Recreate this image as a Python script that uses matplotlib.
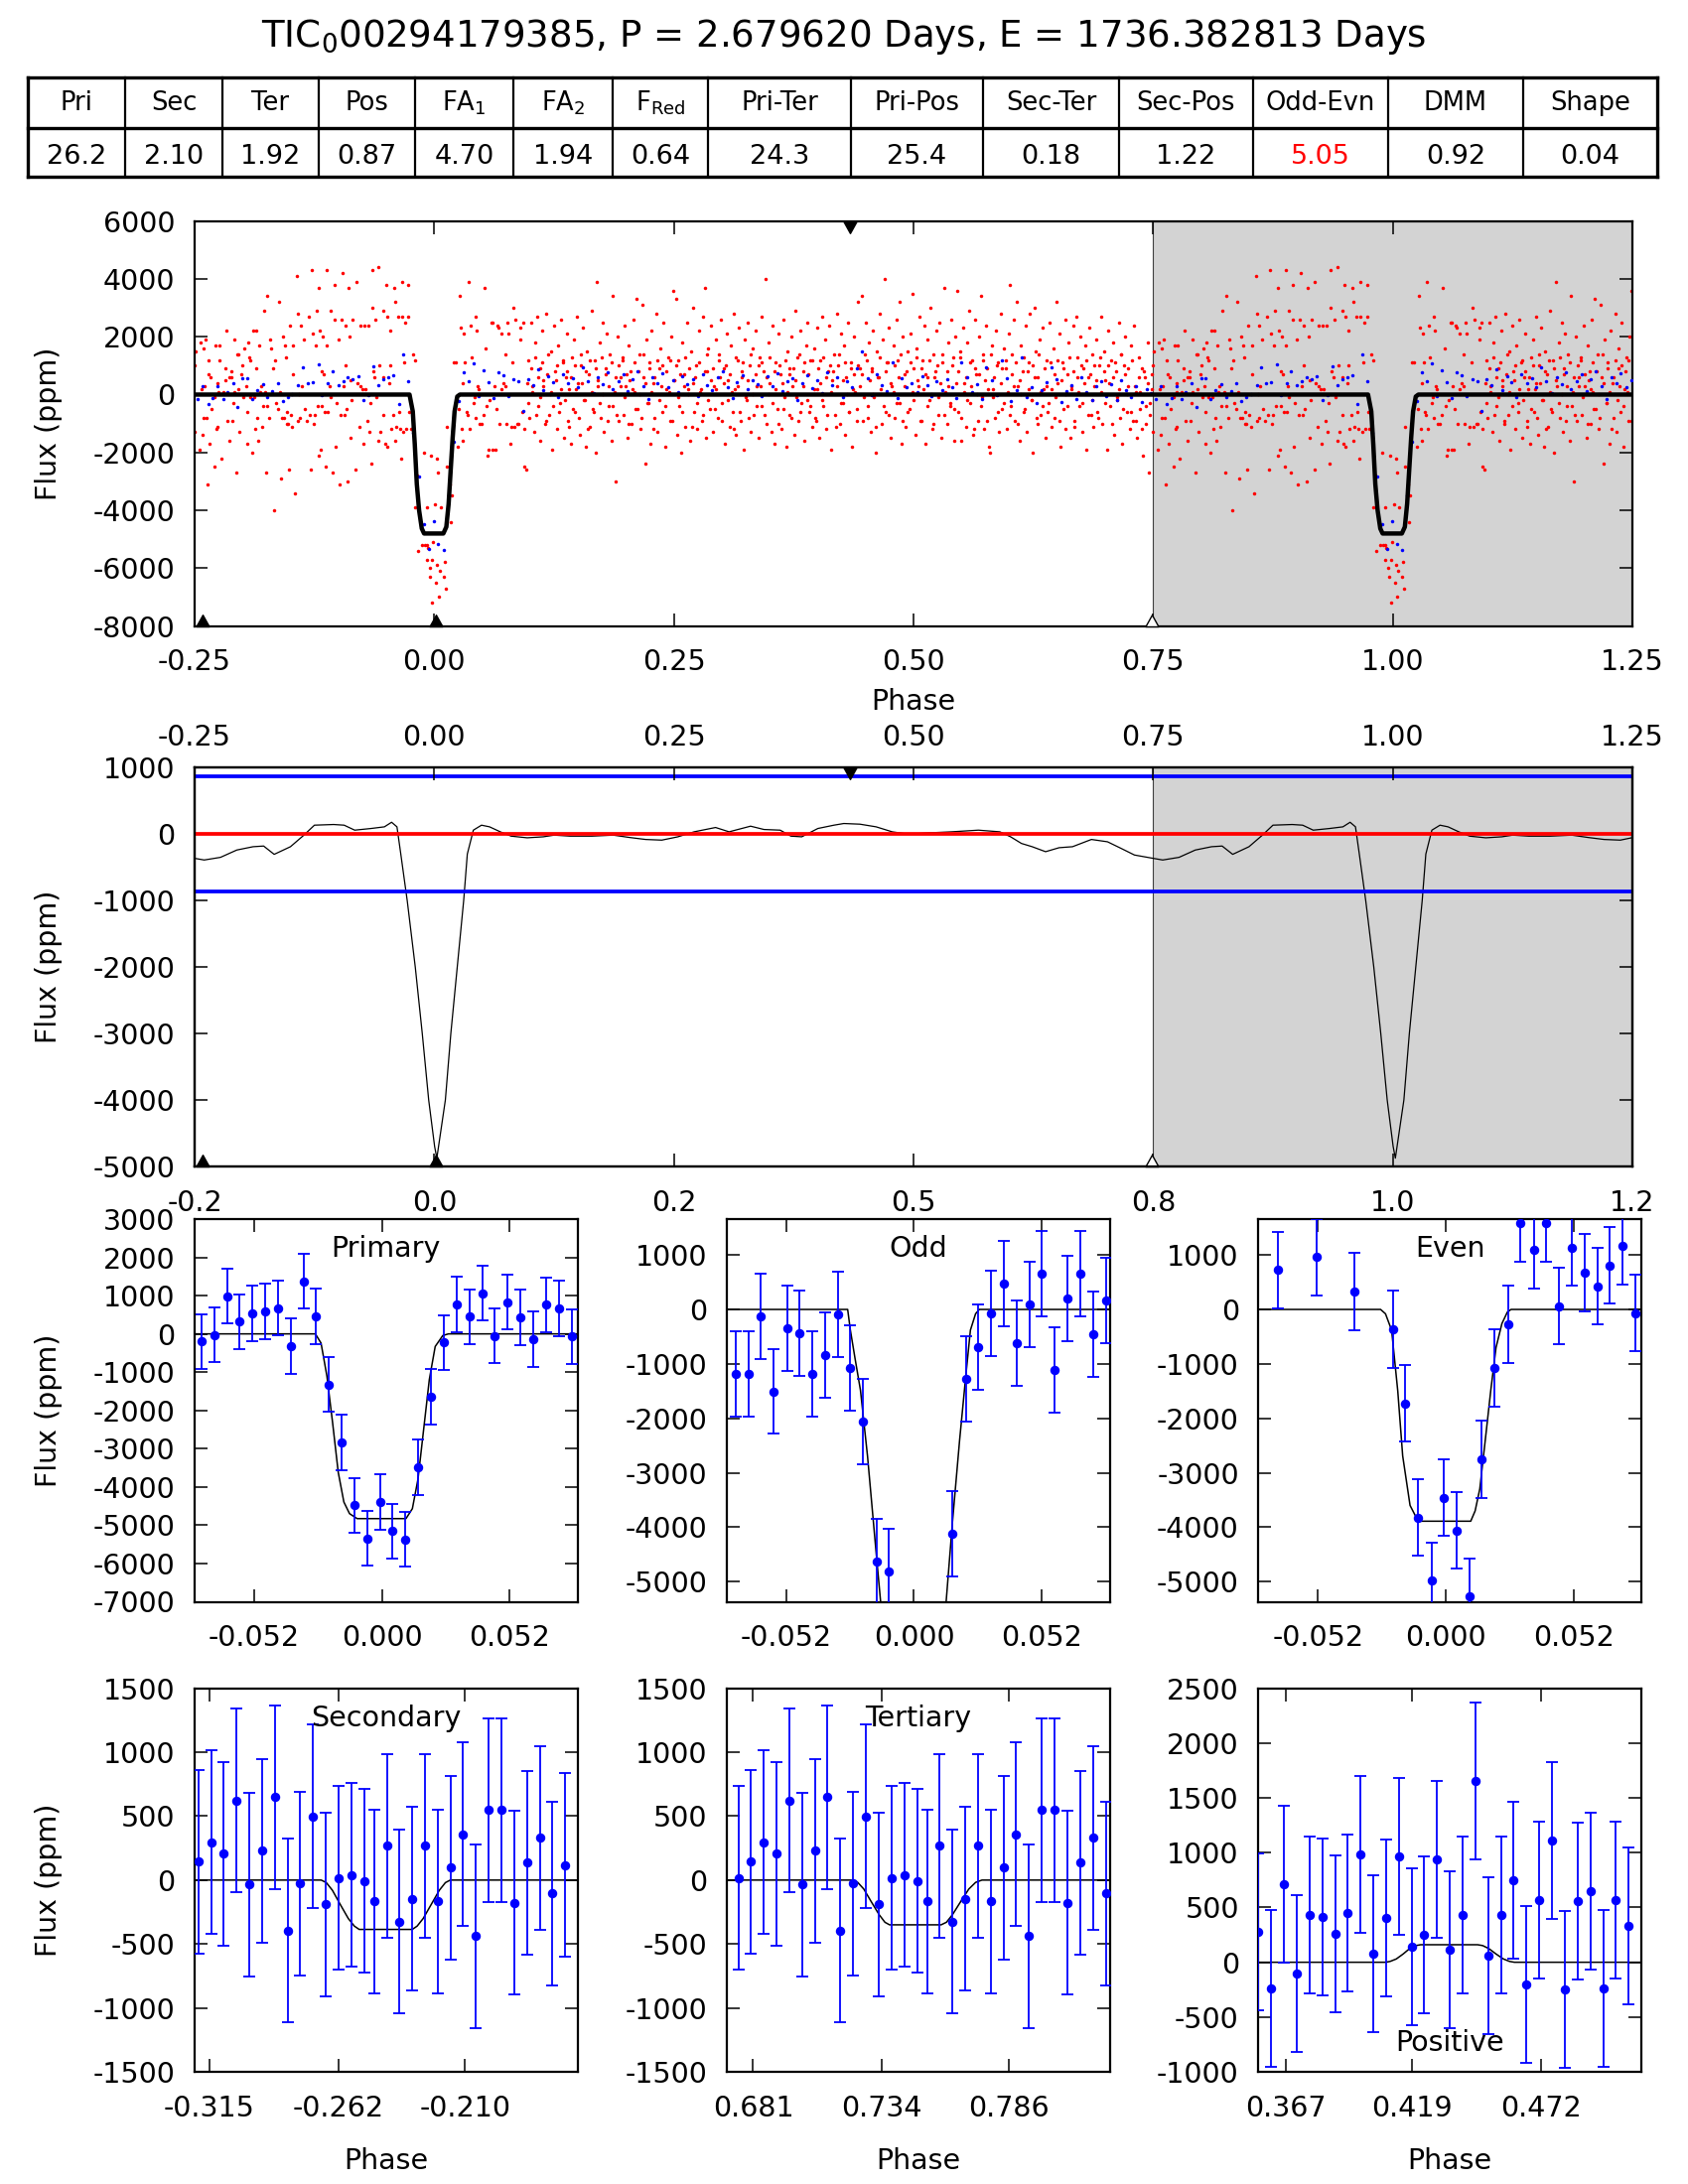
import numpy as np
import matplotlib.pyplot as plt
from matplotlib.path import Path

plt.rcParams['font.family'] = 'DejaVu Sans'
plt.rcParams['mathtext.fontset'] = 'dejavusans'
plt.rcParams['axes.unicode_minus'] = False

# ---------------- data ----------------
title = "TIC$_0$00294179385, P = 2.679620 Days, E = 1736.382813 Days"
table_heads = ["Pri", "Sec", "Ter", "Pos", "FA$_1$", "FA$_2$", "F$_{\\mathrm{Red}}$", "Pri-Ter",
               "Pri-Pos", "Sec-Ter", "Sec-Pos", "Odd-Evn", "DMM", "Shape"]
table_vals = ["26.2", "2.10", "1.92", "0.87", "4.70", "1.94", "0.64", "24.3", "25.4",
              "0.18", "1.22", "5.05", "0.92", "0.04"]
table_red = ["Odd-Evn"]

# event phases: secondary, primary, positive, tertiary
ev_sec, ev_pri, ev_pos, ev_ter = -0.242, 0.0017, 0.434, 0.749

# unbinned flux, phase in 1e-3, flux in 100 ppm
red_ph = [
    -249, -250, -244, -241, -239, -243, -240, -236, -235, -250, -241, -238, -242, -245, -237, -234, -232, -229, -228, -233,
    -229, -227, -226, -224, -224, -226, -225, -222, -220, -218, -217, -218, -216, -214, -214, -212, -211, -210, -209, -212, -209,
    -206, -205, -204, -204, -203, -201, -200, -199, -198, -196, -195, -195, -194, -193, -192, -192, -190, -189, -188, -187, -186, -186,
    -185, -184, -183, -182, -181, -180, -179, -178, -176, -175, -174, -174, -172, -171, -170, -168, -167, -166, -165, -163, -162, -161, -160, -159, -158,
    -157, -156, -155, -154, -154, -153, -152, -151, -150, -148, -147, -147, -145, -143, -142, -142, -141, -140, -139, -138, -136, -135, -133, -131,
    -130, -129, -128, -127, -126, -125, -124, -123, -122, -120, -120, -119, -118, -117, -117, -116, -115, -114, -113, -112, -112, -111, -109, -108, -108, -106, -104, -104, -103,
    -102, -100, -99, -98, -97, -96, -95, -94, -93, -93, -92, -90, -89, -88, -87, -87, -86, -85, -82, -81, -80, -78, -77, -77, -75,
    -74, -73, -72, -70, -69, -68, -67, -66, -65, -65, -64, -62, -61, -60, -58, -58, -57, -56, -53, -53, -53, -51, -50, -49, -49, -47, -46, -46,
    -45, -43, -42, -41, -41, -40, -38, -37, -36, -35, -34, -34, -32, -31, -30, -29, -27, -27, -26, -24, -22, -20,
    -20, -18, -17, -13, -11, -10, -8, -8, -7, -8, -5, -4, -3, -2, -2, -1, 1, 2, 3, 3, 4, 5, 6, 7, 10, 11, 12, 13, 13, 16, 17, 18,
    20, 22, 23, 25, 26, 27, 28, 29, 30, 30, 31, 32, 34, 35, 36, 37, 38, 39, 41, 42, 43, 43, 44, 45, 46, 47,
    49, 51, 52, 54, 55, 56, 57, 58, 60, 61, 61, 63, 64, 65, 66, 67, 68, 70, 70, 72, 74, 74, 75,
    76, 77, 79, 80, 82, 83, 84, 85, 87, 88, 90, 90, 92, 94, 94, 93,
    96, 98, 99, 101, 102, 104, 105, 107, 108, 110, 111, 113, 114, 116, 117, 119, 120, 122, 123, 125, 126, 128, 129, 131, 132, 134, 135, 137, 138, 140, 141, 143, 144,
    146, 147, 149, 150, 152, 153, 155, 156, 158, 159, 161, 162, 164, 165, 167, 168, 170, 171, 173, 174, 176, 177, 179, 180, 182, 183, 185, 186, 188, 189, 191, 192, 194,
    196, 197, 199, 200, 202, 203, 205, 206, 208, 209, 211, 212, 214, 215, 217, 218, 220, 221, 223, 224, 226, 227, 229, 230, 232, 233, 235, 236, 238, 239, 241, 242, 244,
    246, 247, 249, 250, 252, 253, 255, 256, 258, 259, 261, 262, 264, 265, 267, 268, 270, 271, 273, 274, 276, 277, 279, 280, 282, 283, 285, 286, 288, 289, 291, 292, 294,
    296, 297, 299, 300, 302, 303, 305, 306, 308, 309, 311, 312, 314, 315, 317, 318, 320, 321, 323, 324, 326, 327, 329, 330, 332, 333, 335, 336, 338, 339, 341, 342, 344,
    346, 347, 349, 350, 352, 353, 355, 356, 358, 359, 361, 362, 364, 365, 367, 368, 370, 371, 373, 374, 376, 377, 379, 380, 382, 383, 385, 386, 388, 389, 391, 392, 394,
    396, 397, 399, 400, 402, 403, 405, 406, 408, 409, 411, 412, 414, 415, 417, 418, 420, 421, 423, 424, 426, 427, 429, 430, 432, 433, 435, 436, 438, 439, 441, 442, 444,
    446, 447, 449, 450, 452, 453, 455, 456, 458, 459, 461, 462, 464, 465, 467, 468, 470, 471, 473, 474, 476, 477, 479, 480, 482, 483, 485, 486, 488, 489, 491, 492, 494,
    496, 497, 499, 500, 502, 503, 505, 506, 508, 509, 511, 512, 514, 515, 517, 518, 520, 521, 523, 524, 526, 527, 529, 530, 532, 533, 535, 536, 538, 539, 541, 542, 544,
    546, 547, 549, 550, 552, 553, 555, 556, 558, 559, 561, 562, 564, 565, 567, 568, 570, 571, 573, 574, 576, 577, 579, 580, 582, 583, 585, 586, 588, 589, 591, 592, 594,
    596, 597, 599, 600, 602, 603, 605, 606, 608, 609, 611, 612, 614, 615, 617, 618, 620, 621, 623, 624, 626, 627, 629, 630, 632, 633, 635, 636, 638, 639, 641, 642, 644,
    646, 647, 649, 650, 652, 653, 655, 656, 658, 659, 661, 662, 664, 665, 667, 668, 670, 671, 673, 674, 676, 677, 679, 680, 682, 683, 685, 686, 688, 689, 691, 692, 694,
    696, 697, 699, 700, 702, 703, 705, 706, 708, 709, 711, 712, 714, 715, 717, 718, 720, 721, 723, 724, 726, 727, 729, 730, 732, 733, 735, 736, 738, 739, 741, 742, 744, 745, 747, 749,
    96.6, 98.2, 100.9, 102.3, 104.8, 106.1, 108.5, 110.2, 112.7, 113.9, 116.4, 118.1, 120.6, 121.8, 124.3, 126.9, 128.0, 130.5, 132.2, 134.7, 136.0, 138.6, 140.3,
    142.1, 144.8, 146.5, 148.3, 150.9, 152.6, 154.1, 156.8, 158.4, 160.2, 162.7, 164.5, 166.0, 168.6, 170.3, 172.9, 174.4, 176.2, 178.7, 180.5, 182.1, 184.6, 186.3, 188.9,
    190.4, 192.8, 194.5, 196.1, 198.6, 200.3, 202.9, 204.2, 206.7, 208.5, 210.1, 212.6, 214.4, 216.0, 218.7, 220.3, 222.8, 224.1, 226.6, 228.4, 230.0, 232.5, 234.3, 236.8, 238.2,
    240.6, 242.4, 244.9, 246.2, 248.7, 250.5, 252.1, 254.6, 256.3, 258.9, 260.4, 262.2, 264.7, 266.1, 268.6, 270.4, 272.0, 274.5, 276.3, 278.8, 280.2, 282.7, 284.5, 286.0, 288.6,
    290.3, 292.9, 294.1, 296.6, 298.4, 300.0, 302.5, 304.3, 306.8, 308.2, 310.7, 312.5, 314.1, 316.6, 318.4, 320.9, 322.2, 324.7, 326.5, 328.0, 330.6, 332.3, 334.9, 336.1, 338.7,
    340.4, 342.0, 344.5, 346.3, 348.8, 350.2, 352.7, 354.5, 356.1, 358.6, 360.4, 362.9, 364.2, 366.7, 368.5, 370.0, 372.6, 374.3, 376.9, 378.1, 380.6, 382.4, 384.9, 386.2, 388.7,
    390.5, 392.1, 394.6, 396.4, 398.9, 400.2, 402.8, 404.5, 406.1, 408.6, 410.3, 412.9, 414.4, 416.2, 418.7, 420.5, 422.0, 424.6, 426.3, 428.8, 430.1, 432.6, 434.4, 436.9, 438.3,
    440.7, 442.5, 444.0, 446.6, 448.3, 450.9, 452.1, 454.6, 456.4, 458.0, 460.5, 462.3, 464.8, 466.2, 468.7, 470.5, 472.1, 474.6, 476.4, 478.9, 480.2, 482.8, 484.5, 486.1, 488.6,
    490.3, 492.9, 494.2, 496.7, 498.5, 500.1, 502.6, 504.4, 506.9, 508.2, 510.8, 512.5, 514.0, 516.6, 518.3, 520.9, 522.1, 524.6, 526.4, 528.0, 530.5, 532.3, 534.8, 536.2, 538.7,
    540.4, 542.0, 544.5, 546.3, 548.8, 550.1, 552.7, 554.5, 556.0, 558.6, 560.3, 562.9, 564.2, 566.7, 568.5, 570.1, 572.6, 574.4, 576.9, 578.2, 580.8, 582.5, 584.0, 586.6, 588.3,
    590.9, 592.1, 594.6, 596.4, 598.0, 600.5, 602.3, 604.8, 606.2, 608.7, 610.5, 612.1, 614.6, 616.4, 618.9, 620.2, 622.8, 624.5, 626.1, 628.6, 630.3, 632.9, 634.2, 636.7, 638.5,
    640.0, 642.6, 644.3, 646.9, 648.1, 650.6, 652.4, 654.0, 656.5, 658.3, 660.8, 662.2, 664.7, 666.5, 668.0, 670.6, 672.3, 674.9, 676.1, 678.6, 680.4, 682.0, 684.5, 686.3, 688.8,
    690.2, 692.7, 694.5, 696.1, 698.6, 700.4, 702.9, 704.2, 706.7, 708.5, 710.0, 712.6, 714.3, 716.9, 718.1, 720.6, 722.4, 724.0, 726.5, 728.3, 730.8, 732.2, 734.7, 736.5, 738.1, 740.6, 742.4, 744.9, 746.2, 748.7,
]
red_fx = [
    15, 10, 18, 16, 19, 2, 3, 12, 7, -13, -8, -8, -14, -19, -31, -17, -5, -25, 17, 6,
    -1, -12, -11, 12, 17, 4, 1, -22, 1, 9, 22, 5, -9, 6, -16, 8, -9, -3, 19, 6, 1,
    -27, 14, 2, 14, -13, 7, 10, -1, 16, 3, -17, -6, 18, 13, 12, -1, -20, 22, -1, -12, 9, 22,
    -8, -16, 17, 1, 3, -11, -4, 29, 1, -27, 34, -4, -8, 19, 16, 9, -40, 12, -3, -5, 32, 1, -29, -8, 20,
    -8, 17, 13, -10, -6, -10, -26, 24, -7, -11, 7, 17, -34, 41, 28, -9, 0, -8, 24, 3, 19, -5, -9, 27,
    -7, -26, 43, 21, -10, -7, 17, 29, -4, -21, 37, 22, -19, -4, 8, 20, 7, -6, -25, 17, 43, -6, 3, 29, -1, -27, 38, 26, -18,
    -3, 19, -31, -7, 26, 42, 3, -7, 24, 10, -5, -30, 37, 20, -15, 5, -2, 26, -26, 39, 4, -11, 24, 3, 2,
    -17, 24, 2, -9, 24, -13, -3, -24, 43, 30, 8, 6, 26, -1, -16, 44, 10, -13, 29, 6, -7, -17, 38, 27, -18, 4, 10, 22,
    -12, -7, 37, 32, -16, -11, 27, -6, -12, -22, 39, 27, -13, 11, 25, -12, 38, 27, -6, -12, 14, 12,
    -39, -28, -54, -52, -20, -52, -52, -39, -53, -57, -60, -63, -21, -72, -57, -51, -38, -65, -59, -22, -27, -70, -61, -39, -63, -58, -67, -11, -25, -31, -44, -35,
    11, 11, -2, -18, -5, 34, 23, -12, -16, 4, 21, 11, -6, -7, 39, -12, 24, 13, -3, -1, -8, 27, 22, 3, 2, -10,
    -10, -7, 37, 16, -4, -21, -19, -2, 25, 25, -19, 3, -19, -5, 24, 23, -10, 2, 21, 4, 14, 3, -10,
    25, 21, -17, -11, 11, 30, -11, 26, -10, -10, 23, 19, -6, -12, -25, 25,
    -26, 12, -8, 25, 3, -13, 18, 27, -4, 9, -16, 22, 5, -10, 28, 14, -7, 1, -19, 24, 8, -12, 17, -3, 26, 11, -15, 6, 21, -9, 2, -17, 13,
    19, -6, 27, 4, -14, 10, 23, -2, -18, 15, 7, -11, 29, -5, 12, -20, 39, 3, 18, -8, 25, -13, 9, 21, -4, 14, -16, 34, 1, -30, 20, -9, 6,
    12, -7, 24, 3, -15, 17, 8, -10, 26, 1, 33, -5, 14, -12, 31, 6, -24, 19, -3, 11, -17, 22, 4, -8, 28, -13, 9, 16, -6, 25, -18, 2, 13,
    -9, 20, 36, 5, 33, -14, 12, -4, -20, 18, 7, -11, 25, 2, -16, 15, 30, -6, 10, -12, 22, 1, -9, 27, 37, -15, 8, 16, -5, 24, -13, 3, 19,
    -8, 14, 26, -3, 9, -17, 21, 5, -11, 17, -6, 28, 2, -14, 12, 23, -9, 6, -19, 19, -2, 25, 10, -13, 16, -7, 22, 3, -15, 13, -4, 27, 8,
    40, -10, 18, 4, -13, 24, -17, 11, -5, 21, 7, -12, 26, -1, -18, 15, 9, -7, 20, 3, -14, 29, 13, -9, 22, -3, 8, -16, 17, 25, -6, 12, -11,
    16, -8, 23, 2, -15, 12, 27, -4, 19, -12, 8, 24, -19, 5, 14, -7, 28, 10, -10, 21, -3, 17, -14, 6, 25, -6, 11, -18, 20, 1, -9, 32, 9,
    34, -9, 14, 25, -4, 18, -13, 8, 22, -1, -20, 15, 6, 28, -10, 19, 40, -6, 11, 23, -15, 3, 17, -8, 26, 12, 32, -3, -17, 20, 7, -11, 15,
    -5, 21, 35, 9, -14, 16, 3, 27, -9, 12, 24, -17, 6, 19, -2, 30, -12, 14, 8, 22, -7, 25, -15, 11, 37, 1, -10, 18, -4, 26, 13, -16, 20,
    36, -6, 15, -16, 23, 4, -11, 18, 29, -3, 12, -14, 26, 7, -9, 20, 34, -1, 14, -12, 24, 9, -18, -20, 17, 2, -8, 22, 11, -13, 28, -5, 16,
    9, -12, 21, 38, -4, 14, 26, -9, 32, 3, -16, 17, 8, -6, 24, -13, 11, 28, -2, -20, 30, 15, -10, 6, 19, -7, 23, 2, -15, 12, -3, 25, -11,
    16, -8, 32, 4, 21, -18, 11, -5, 26, -12, 7, 18, -15, 2, 24, -9, 27, 13, -4, 20, -13, 9, 17, -19, 6, 23, -7, 14, -11, 3, 19, -6, 10,
    27, -10, 15, 5, -19, 22, -4, 12, 18, -14, 8, -2, 25, -8, 14, -17, 10, 20, -6, 3, -12, 17, -9, 24, 1, -15, 13, -5, 9, -21, 6, -10, 18, -27, -3, 7,
    4, -3, 9, 1, 13, -7, 6, -1, 11, 3, -9, 7, 0, 15, -4, 5, 10, -6, 2, 12, -2, 8, -11,
    6, -5, 10, 2, -8, 14, 4, -2, 8, -12, 12, 1, -6, 9, 5, -3, 13, 0, 7, -9, 3, 11, -4, 6,
    -7, 10, 3, 13, -1, 7, -10, 5, 2, 11, -5, 8, 0, -8, 14, 4, -3, 9, 1, -12, 6, 12, -2, 3, 10,
    -4, 8, 1, 12, -9, 5, 10, -1, 7, -6, 3, 13, 0, 9, -11, 4, 6, -3, 11, 2, -7, 8, 14, -2, 5,
    9, -5, 2, 12, 6, -9, 4, 10, -2, 7, 1, -12, 13, 3, -6, 8, 11, -1, 5, -8, 14, 0, 7, -4, 10,
    3, 11, -7, 6, 0, 13, -3, 8, 2, -10, 10, 4, -5, 12, 1, 7, -8, 9, 5, -1, 14, -6, 3, 11, -2,
    7, -4, 12, 2, -9, 9, 4, -2, 13, 6, -7, 10, 1, 8, -11, 3, 14, -3, 5, 11, 0, -6, 9, 2, 7,
    -5, 10, 3, 7, -1, 12, -8, 5, 9, 0, -11, 6, 13, 2, -4, 8, 11, -7, 4, 1, 10, -3, 6, 14, -9,
    3, 8, -6, 11, 1, -2, 13, 5, -9, 9, 2, 7, -4, 12, 0, -10, 6, 10, -1, 4, 14, -7, 8, 3, -3,
    10, -5, 4, 8, 13, -8, 1, 6, -2, 11, 3, -12, 9, 0, 7, -4, 12, 5, -9, 2, 14, -1, 6, 10, -6,
    4, 9, -3, 12, 1, -7, 7, 3, 11, -10, 5, 0, 13, -5, 8, 2, -2, 10, 6, -8, 14, 1, -4, 9, 3,
    -6, 11, 2, 7, -1, 12, -9, 5, 9, 0, -4, 13, 3, 8, -11, 6, 1, 10, -3, 4, 12, -7, 7, -2, 10,
    5, -8, 13, 1, 8, -3, 10, 4, -10, 6, 11, -1, 2, 14, -5, 7, 0, 9, -6, 12, 3, -9, 6, 1, -12, 8, -4, 4, -7, 2,
]

# binned flux (phase in 1e-3, flux in ppm)
blue_ph = [-247, -242, -236, -231, -226, -220, -216, -210, -205, -200, -195, -190, -185, -179, -174, -169,
           -163, -158, -153, -148, -142, -137, -132, -127, -121, -117, -111, -106, -100, -95, -90, -85, -79,
           -73.5, -68.4, -63.1, -58, -52.8, -47.5, -42.4, -37.1, -32, -26.9, -21.7, -16.4, -11.1, -6, -0.8,
           4.3, 9.6, 14.7, 20, 25.2, 30.5, 35.6, 40.9, 46, 51.2, 56.3, 61.6, 66.7, 72, 77.2, 83, 88, 93,
           98, 103, 108, 114, 119, 124, 129, 134, 140, 145, 150, 155, 160, 166, 171, 176, 181, 186,
           192, 197, 202, 207, 212, 218, 223, 228, 233, 238, 244, 249, 254, 259, 264, 270, 275, 280,
           285, 290, 296, 301, 306, 311, 316, 322, 327, 332, 337, 342, 348, 353, 358, 363, 368, 374,
           379, 384, 389, 394, 400, 405, 410, 415, 420, 426, 431, 436, 441, 446, 452, 457, 462, 467,
           472, 478, 483, 488, 493, 498, 504, 509, 514, 519, 524, 530, 535, 540, 545, 550, 556, 561,
           566, 571, 576, 582, 587, 592, 597, 602, 608, 613, 618, 623, 628, 634, 639, 644, 649, 654,
           660, 665, 670, 675, 680, 686, 691, 696, 701, 706, 712, 717, 722, 727, 732, 738, 743, 748]
blue_fx = [-150, 300, -310, -130, 300, -160, 100, 380, -420, 570, 570, -160, 160, 350, -90, 130,
           400, -210, -70, 10, 310, 960, 400, 430, 1040, -30, 400, 790, 330, 460, 600, 540, 650,
           -199, -26, 986, 320, 536, 588, 675, -320, 1375, 458, -1324, -2837, -4481, -5346, -4394,
           -5156, -5372, -3486, -1644, -225, 770, 450, 1064, -52, 830, 433, -138, 761, 666, -69, 520, 460, -580,
           520, 310, 880, 150, 640, 420, -90, 710, 380, 560, 240, 930, 470, 60, 610, 350, 780, 180,
           450, 690, 120, 530, 820, 290, -150, 600, 410, 730, 260, 480, 90, 650, 370, 540, -60, 700,
           330, 160, 590, 810, 240, -120, 430, 660, 200, 500, 350, -40, 620, 280, 740, 110, 450, 580,
           -180, 390, 670, 230, 510, 40, 760, 320, 600, -90, 460, 250, 920, 1500, 550, -20, 700, 340,
           120, 1100, -110, 580, 260, 380, 80, 640, 310, -60, 450, 170, 520, 270, -130, 1100, 600, 100,
           350, -170, 950, 480, -20, 1200, 560, -220, 150, 1300, -100, 260, -300, 170, 420, 950, 530, -260,
           120, 340, -150, 610, 70, -200, 280, 460, -40, 350, -190, 510, 140, -80, 300, -250, 200, 60]

# model in top panel
top_model_ph = [-0.25, -0.0258, -0.0224, -0.0203, -0.0182, -0.0158, -0.0130, -0.0106, 0.0095, 0.0126,
                0.0150, 0.0171, 0.0192, 0.0212, 0.0240, 0.0267, 0.75]
top_model_fx = [0, 0, -580, -1723, -3092, -4005, -4633, -4804, -4804, -4576, -3777, -2636, -1495, -582, -68, 0, 0]

# convolved curve (second panel)
conv_ph = [-0.250, -0.240, -0.223, -0.206, -0.189, -0.178, -0.167, -0.150, -0.136, -0.125, -0.105, -0.094,
           -0.083, -0.066, -0.052, -0.0445, -0.0389, -0.0350, -0.0282, -0.0198, -0.0125, -0.0058, 0.0004,
           0.0027, 0.0116, 0.0173, 0.0240, 0.0307, 0.0345, 0.0408, 0.0493, 0.0577, 0.0689, 0.0802, 0.0970,
           0.1138, 0.1251, 0.1419, 0.1644, 0.1868, 0.2037, 0.2205, 0.2374, 0.2542, 0.2711, 0.2935, 0.3076,
           0.3300, 0.3440, 0.3609, 0.3721, 0.3834, 0.4002, 0.4170, 0.4273, 0.4441, 0.4610, 0.4778, 0.4947,
           0.5171, 0.5396, 0.5677, 0.5901, 0.6013, 0.6126, 0.6238, 0.6378, 0.6519, 0.6659, 0.6856, 0.7024,
           0.7165, 0.7305, 0.7500]
conv_fx = [-364, -389, -349, -239, -189, -179, -304, -189, -15, 135, 145, 135,
           60, 85, 110, 179, 110, -289, -1000, -2000, -3000, -4000, -4700,
           -4875, -4000, -3000, -2000, -1000, -300, 60, 135, 110, 35, -30, -55,
           -40, -15, -30, -30, -15, -50, -80, -90, -40, 35, 100, 35,
           120, 70, 60, -30, -40, 85, 135, 160, 150, 110, 35, 0,
           20, 35, 60, 35, -40, -140, -189, -264, -204, -189, -80, -115,
           -214, -314, -364]
conv_zero = 0
conv_thresh = 867

# primary
pri_ph = [-0.0735, -0.0684, -0.0631, -0.0580, -0.0528, -0.0475, -0.0424, -0.0371, -0.0320, -0.0269,
          -0.0217, -0.0164, -0.0111, -0.0060, -0.0008, 0.0043, 0.0096, 0.0147, 0.0200, 0.0252,
          0.0305, 0.0356, 0.0409, 0.0460, 0.0512, 0.0563, 0.0616, 0.0667, 0.0720, 0.0772]
pri_fx = [-199, -26, 986, 320, 536, 588, 675, -320, 1375, 458,
          -1324, -2837, -4481, -5346, -4394, -5156, -5372, -3486, -1644, -225,
          770, 450, 1064, -52, 830, 433, -138, 761, 666, -69]
pri_err = 718
pri_model_ph = [-0.0765, -0.0271, -0.0248, -0.0224, -0.0201, -0.0178, -0.0155, -0.0132, -0.0101,
                0.0098, 0.0124, 0.0147, 0.0170, 0.0193, 0.0217, 0.0248, 0.0271, 0.0800]
pri_model_fx = [0, 0, -242, -1107, -2318, -3616, -4394, -4697, -4827,
                -4827, -4567, -3789, -2491, -1194, -329, -43, 0, 0]

# odd
odd_ph = [-0.0725, -0.0675, -0.0623, -0.0571, -0.0517, -0.0467, -0.0415, -0.0361, -0.0311, -0.0259,
          -0.0207, -0.0153, -0.0103, 0.0157, 0.0211, 0.0261, 0.0313, 0.0367, 0.0417, 0.0471,
          0.0521, 0.0573, 0.0625, 0.0677, 0.0729, 0.0781]
odd_fx = [-1189, -1177, -127, -1505, -352, -437, -1177, -831, -97, -1074,
          -2063, -4624, -4818, -4120, -1274, -698, -79, 473, -613, 91,
          661, -1104, 194, 661, -449, 170]
odd_err = 783
odd_model_ph = [-0.0765, -0.0270, -0.0259, -0.0240, -0.0218, -0.0189, -0.0153, -0.0125, -0.0100,
                0.0100, 0.0120, 0.0157, 0.0186, 0.0211, 0.0230, 0.0251, 0.0266, 0.0800]
odd_model_fx = [0, 0, -380, -900, -1480, -2700, -4520, -5900, -6400,
                -6400, -6000, -3900, -2400, -1230, -380, -80, 0, 0]

# even
even_ph = [-0.0682, -0.0527, -0.0371, -0.0215, -0.0165, -0.0112, -0.0058, -0.0007, 0.0045, 0.0096,
           0.0147, 0.0199, 0.0253, 0.0305, 0.0358, 0.0410, 0.0461, 0.0513, 0.0566, 0.0618,
           0.0669, 0.0721, 0.0774]
even_fx = [722, 965, 328, -364, -1729, -3823, -4982, -3459, -4060, -5273,
           -2755, -1074, -273, 1578, 1092, 1578, 61, 1135, 674, 425,
           807, 1165, -67]
even_err = 704
even_model_ph = [-0.0765, -0.0265, -0.0245, -0.0220, -0.0195, -0.0175, -0.0145, -0.0112,
                 0.0102, 0.0120, 0.0139, 0.0160, 0.0184, 0.0205, 0.0229, 0.0251, 0.0266, 0.0800]
even_model_fx = [0, 0, -80, -382, -1500, -2690, -3600, -3890,
                 -3890, -3700, -3295, -2450, -1474, -700, -260, -50, 0, 0]

# secondary
sec_ph = [-0.3195, -0.3142, -0.3091, -0.3038, -0.2986, -0.2933, -0.2882, -0.2829, -0.2777, -0.2724,
          -0.2671, -0.2620, -0.2567, -0.2515, -0.2473, -0.2421, -0.2370, -0.2317, -0.2265, -0.2212,
          -0.2159, -0.2108, -0.2055, -0.2003, -0.1950, -0.1899, -0.1846, -0.1793, -0.1741, -0.1688]
sec_fx = [145, 295, 207, 622, -36, 231, 650, -396, -26, 497,
          -189, 16, 39, -8, -168, 269, -326, -145, 269, -168,
          96, 358, -438, 547, 547, -179, 137, 329, -104, 117]
sec_err = 718
sec_model_ph = [-0.3211, -0.2691, -0.2670, -0.2645, -0.2613, -0.2580, -0.2555, -0.2535,
                -0.2317, -0.2297, -0.2272, -0.2239, -0.2206, -0.2181, -0.2161, -0.1638]
sec_model_fx = [0, 0, -20, -80, -190, -300, -360, -386, -386, -360, -300, -190, -80, -20, 0, 0]

# tertiary
ter_ph = [0.6749, 0.6801, 0.6854, 0.6906, 0.6959, 0.7011, 0.7064, 0.7116, 0.7169, 0.7221,
          0.7274, 0.7326, 0.7379, 0.7431, 0.7484, 0.7525, 0.7577, 0.7630, 0.7682, 0.7735,
          0.7787, 0.7840, 0.7892, 0.7945, 0.7997, 0.8050, 0.8102, 0.8155, 0.8207, 0.8260]
ter_fx = [18, 145, 295, 207, 622, -36, 231, 650, -396, -26,
          497, -189, 16, 39, -8, -168, 269, -326, -145, 269,
          -168, 96, 358, -438, 547, 547, -179, 137, 329, -104]
ter_err = 718
ter_model_ph = [0.6701, 0.7218, 0.7240, 0.7265, 0.7296, 0.7328, 0.7352, 0.7371,
                0.7583, 0.7605, 0.7630, 0.7663, 0.7697, 0.7725, 0.7751, 0.8276]
ter_model_fx = [0, 0, -18, -70, -170, -270, -330, -350, -350, -330, -270, -170, -70, -18, 0, 0]

# positive
pos_ph = [0.3558, 0.3611, 0.3664, 0.3717, 0.3770, 0.3821, 0.3874, 0.3926, 0.3978, 0.4031,
          0.4083, 0.4136, 0.4189, 0.4240, 0.4293, 0.4346, 0.4399, 0.4450, 0.4503, 0.4556,
          0.4607, 0.4660, 0.4712, 0.4764, 0.4816, 0.4869, 0.4922, 0.4975, 0.5026, 0.5079]
pos_fx = [278, -239, 716, -100, 432, 414, 257, 453, 987, 75,
          402, 963, 139, 254, 936, 118, 435, 1655, 60, 435,
          746, -199, 571, 1111, -245, 562, 652, -242, 565, 335]
pos_err = 716
pos_model_ph = [0.3558, 0.4082, 0.4100, 0.4125, 0.4153, 0.4180, 0.4205, 0.4225,
                0.4459, 0.4480, 0.4505, 0.4535, 0.4565, 0.4590, 0.4610, 0.5132]
pos_model_fx = [0, 0, 8, 30, 75, 125, 152, 160, 160, 152, 125, 75, 30, 8, 0, 0]

# ---------------- layout ----------------
W, H = 1700, 2200
FS = 20.5


def rect(l, t, r, b):
    return [l / W, 1 - b / H, (r - l) / W, (b - t) / H]


fig = plt.figure(figsize=(17, 22), dpi=100)
fig.text(0.5, 1 - 37 / H, title, ha='center', va='center', fontsize=26.7)

# table
col_edges = [28, 126, 224, 321, 418, 517, 617, 713, 857, 990, 1127, 1262, 1398, 1534, 1669]
tab = fig.add_axes(rect(28, 78, 1669, 178))
tab.set_xlim(28, 1669)
tab.set_ylim(178, 78)
tab.axis('off')
for yy in (78, 128.5, 178):
    tab.plot([28, 1669], [yy, yy], color='black', lw=2.4, clip_on=False, solid_capstyle='projecting')
for i, xx in enumerate(col_edges):
    lw = 2.4 if i in (0, len(col_edges) - 1) else 1.6
    tab.plot([xx, xx], [78, 178], color='black', lw=lw, clip_on=False)
for i, (hd, vl) in enumerate(zip(table_heads, table_vals)):
    xc = (col_edges[i] + col_edges[i + 1]) / 2
    tab.text(xc, 104, hd, ha='center', va='center', fontsize=18.5)
    tab.text(xc, 158, vl, ha='center', va='center', fontsize=19.5,
             color='red' if hd in table_red else 'black')

up_tri = Path([(-0.5, 0), (0.5, 0), (0, 0.9), (-0.5, 0)],
              [Path.MOVETO, Path.LINETO, Path.LINETO, Path.CLOSEPOLY])
dn_tri = Path([(-0.5, 0), (0.5, 0), (0, -0.9), (-0.5, 0)],
              [Path.MOVETO, Path.LINETO, Path.LINETO, Path.CLOSEPOLY])


def events(ax, ylo, yhi):
    ax.plot([ev_sec, ev_pri], [ylo, ylo], ls='none', marker=up_tri, ms=17, color='black', clip_on=False, zorder=6)
    ax.plot([ev_pos], [yhi], ls='none', marker=dn_tri, ms=17, color='black', clip_on=False, zorder=6)
    ax.plot([ev_ter], [ylo], ls='none', marker=up_tri, ms=17, mfc='white', mec='black', mew=1.0,
            clip_on=False, zorder=6)


def frame(ax):
    for s in ax.spines.values():
        s.set_linewidth(1.6)
    ax.tick_params(direction='in', top=True, right=True, length=9.5, width=1.1, labelsize=FS)
    ax.tick_params(axis='x', pad=16.5)
    ax.tick_params(axis='y', pad=14)


big_ticks = [-0.25, 0.0, 0.25, 0.5, 0.75, 1.0, 1.25]

# ---- top panel: phased data ----
ax1 = fig.add_axes(rect(196, 222.7, 1644, 630.5))
rp = np.array(red_ph) / 1000.0
rf = np.array(red_fx) * 100.0
bp = np.array(blue_ph) / 1000.0
bf = np.array(blue_fx, dtype=float)
tmp = np.array(top_model_ph)
tmf = np.array(top_model_fx, dtype=float)
ax1.axvspan(0.75, 1.25, color='#d3d3d3', zorder=0, lw=0)
ax1.axvline(0.75, color='#404040', lw=0.8, zorder=1)
ax1.plot(np.r_[rp, rp[rp < 0.26] + 1], np.r_[rf, rf[rp < 0.26]], 'o', ms=2.5, mew=0,
         color='red', zorder=2)
ax1.plot(np.r_[bp, bp[bp < 0.26] + 1], np.r_[bf, bf[bp < 0.26]], 'o', ms=2.5, mew=0,
         color='blue', zorder=3)
keep = tmp < 0.25
ax1.plot(np.r_[tmp[tmp < 0.75], tmp[keep] + 1, 1.25], np.r_[tmf[tmp < 0.75], tmf[keep], 0],
         color='black', lw=3.2, zorder=4)
ax1.set_xlim(-0.25, 1.25)
ax1.set_ylim(-8000, 6000)
events(ax1, -8000, 6000)
frame(ax1)
ax1.set_xticks(big_ticks, labels=['%.2f' % t for t in big_ticks])
yt = [-8000, -6000, -4000, -2000, 0, 2000, 4000, 6000]
ax1.set_yticks(yt, labels=[str(v) for v in yt])
ax1.set_xlabel('Phase', fontsize=FS, labelpad=8)
ax1.set_ylabel('Flux (ppm)', fontsize=FS, va='center')
ax1.yaxis.set_label_coords((49 - 196) / 1448, 0.5)

# ---- second panel: convolved ----
ax2 = fig.add_axes(rect(196, 773.3, 1644, 1175))
cp = np.array(conv_ph)
cf = np.array(conv_fx, dtype=float)
ax2.axvspan(0.75, 1.25, color='#d3d3d3', zorder=0, lw=0)
ax2.axvline(0.75, color='#404040', lw=0.8, zorder=1)
ax2.plot(np.r_[cp, cp[cp < 0.26] + 1], np.r_[cf, cf[cp < 0.26]], color='black', lw=0.9, zorder=2)
ax2.axhline(conv_zero, color='red', lw=2.7, zorder=3)
ax2.axhline(conv_thresh, color='blue', lw=2.7, zorder=3)
ax2.axhline(-conv_thresh, color='blue', lw=2.7, zorder=3)
ax2.set_xlim(-0.25, 1.25)
ax2.set_ylim(-5000, 1000)
events(ax2, -5000, 1000)
frame(ax2)
ax2.tick_params(top=False)
ax2.set_xticks(big_ticks, labels=['%.1f' % t for t in big_ticks])
yt = [-5000, -4000, -3000, -2000, -1000, 0, 1000]
ax2.set_yticks(yt, labels=[str(v) for v in yt])
ax2.set_ylabel('Flux (ppm)', fontsize=FS, va='center')
ax2.yaxis.set_label_coords((49 - 196) / 1448, 0.5)
ax2t = ax2.twiny()
ax2t.set_xlim(-0.25, 1.25)
ax2t.set_xticks(big_ticks, labels=['%.2f' % t for t in big_ticks])
ax2t.tick_params(direction='in', length=9.5, width=1.1, labelsize=FS, pad=11.5)
for s in ax2t.spines.values():
    s.set_linewidth(1.6)


# ---- small panels ----
def small(box, ph, fx, err, mph, mfx, xlim, ylim, xt, yt, name, name_top=True, ylabel=False, xlabel=False):
    ax = fig.add_axes(rect(*box))
    ax.plot(mph, mfx, color='black', lw=1.1, zorder=2)
    ax.errorbar(ph, fx, yerr=err, fmt='o', ms=5.8, color='blue', ecolor='blue',
                elinewidth=1.3, capsize=4.2, capthick=1.3, zorder=3)
    ax.set_xlim(*xlim)
    ax.set_ylim(*ylim)
    frame(ax)
    ax.set_xticks(xt, labels=['%.3f' % t for t in xt])
    ax.set_yticks(yt, labels=[str(v) for v in yt])
    hgt = box[3] - box[1]
    ypos = 1 - 30 / hgt if name_top else 29 / hgt
    ax.text(0.5, ypos, name, transform=ax.transAxes, ha='center', va='center', fontsize=FS, zorder=5)
    if ylabel:
        ax.set_ylabel('Flux (ppm)', fontsize=FS, va='center')
        ax.yaxis.set_label_coords((49 - box[0]) / (box[2] - box[0]), 0.5)
    if xlabel:
        ax.set_xlabel('Phase', fontsize=FS, labelpad=18)
    return ax


tr_xlim = (-0.0763, 0.0797)
tr_xt = [-0.052, 0.0, 0.052]
small((196, 1228, 581.7, 1613.5), pri_ph, pri_fx, pri_err, pri_model_ph, pri_model_fx,
      tr_xlim, (-7000, 3000), tr_xt, list(range(-7000, 3001, 1000)), 'Primary', ylabel=True)
small((731.8, 1228, 1117.5, 1613.5), odd_ph, odd_fx, odd_err, odd_model_ph, odd_model_fx,
      tr_xlim, (-5370, 1660), tr_xt, list(range(-5000, 1001, 1000)), 'Odd')
small((1267.2, 1228, 1653.1, 1613.5), even_ph, even_fx, even_err, even_model_ph, even_model_fx,
      tr_xlim, (-5370, 1660), tr_xt, list(range(-5000, 1001, 1000)), 'Even')

small((196, 1700.7, 581.7, 2087), sec_ph, sec_fx, sec_err, sec_model_ph, sec_model_fx,
      (-0.3211, -0.1638), (-1500, 1500), [-0.315, -0.262, -0.210], list(range(-1500, 1501, 500)),
      'Secondary', ylabel=True, xlabel=True)
small((731.8, 1700.7, 1117.5, 2087), ter_ph, ter_fx, ter_err, ter_model_ph, ter_model_fx,
      (0.6701, 0.8276), (-1500, 1500), [0.681, 0.734, 0.786], list(range(-1500, 1501, 500)),
      'Tertiary', xlabel=True)
small((1267.2, 1700.7, 1653.1, 2087), pos_ph, pos_fx, pos_err, pos_model_ph, pos_model_fx,
      (0.3558, 0.5132), (-1000, 2500), [0.367, 0.419, 0.472], list(range(-1000, 2501, 500)),
      'Positive', name_top=False, xlabel=True)

fig.savefig('out.png', dpi=100)
